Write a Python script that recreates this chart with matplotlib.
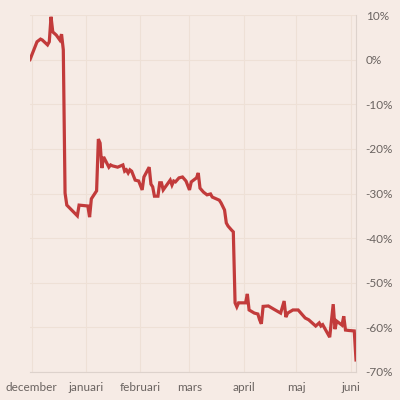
import matplotlib
matplotlib.use("Agg")
import matplotlib.pyplot as plt
import matplotlib.dates as mdates
import pandas as pd

dates = [
    "2018-11-30", "2018-12-04", "2018-12-06", "2018-12-07", "2018-12-10", "2018-12-11",
    "2018-12-12", "2018-12-13", "2018-12-15", "2018-12-17", "2018-12-18", "2018-12-19",
    "2018-12-20", "2018-12-21", "2018-12-27", "2018-12-28", "2019-01-02", "2019-01-03",
    "2019-01-04", "2019-01-07", "2019-01-08", "2019-01-09", "2019-01-10", "2019-01-11",
    "2019-01-14", "2019-01-15", "2019-01-16", "2019-01-19", "2019-01-22", "2019-01-23",
    "2019-01-24", "2019-01-25", "2019-01-26", "2019-01-27", "2019-01-29", "2019-01-31",
    "2019-02-02", "2019-02-03", "2019-02-06", "2019-02-07", "2019-02-08", "2019-02-09",
    "2019-02-11", "2019-02-12", "2019-02-13", "2019-02-14", "2019-02-16", "2019-02-18",
    "2019-02-19", "2019-02-20", "2019-02-21", "2019-02-23", "2019-02-25", "2019-02-27",
    "2019-03-01", "2019-03-02", "2019-03-05", "2019-03-06", "2019-03-07", "2019-03-09",
    "2019-03-11", "2019-03-13", "2019-03-14", "2019-03-18", "2019-03-19", "2019-03-21",
    "2019-03-22", "2019-03-23", "2019-03-25", "2019-03-26", "2019-03-27", "2019-03-28",
    "2019-03-29", "2019-04-02", "2019-04-03", "2019-04-04", "2019-04-07", "2019-04-09",
    "2019-04-10", "2019-04-11", "2019-04-12", "2019-04-15", "2019-04-18", "2019-04-22",
    "2019-04-24", "2019-04-25", "2019-04-26", "2019-04-29", "2019-05-02", "2019-05-04",
    "2019-05-06", "2019-05-08", "2019-05-10", "2019-05-12", "2019-05-14", "2019-05-15",
    "2019-05-16", "2019-05-20", "2019-05-22", "2019-05-23", "2019-05-24", "2019-05-27",
    "2019-05-28", "2019-05-29", "2019-05-31", "2019-06-03", "2019-06-04",
]
change_pct = [
    0.0, 4.0, 4.6, 4.4, 3.3, 4.0,
    9.6, 6.2, 5.5, 4.4, 5.7, 2.2,
    -29.9, -32.6, -35.0, -32.6, -32.8, -35.3,
    -31.2, -29.4, -17.8, -18.7, -24.3, -21.8,
    -24.1, -23.6, -23.8, -24.1, -23.6, -25.0,
    -24.7, -25.4, -24.7, -25.0, -27.0, -27.2,
    -29.2, -26.3, -24.1, -27.9, -28.5, -30.6,
    -30.6, -27.6, -27.6, -29.2, -28.1, -27.0,
    -28.1, -27.2, -27.4, -26.5, -26.3, -27.2,
    -29.2, -27.4, -26.5, -25.4, -28.8, -29.7,
    -30.3, -30.1, -30.8, -31.5, -32.1, -33.7,
    -36.6, -37.3, -38.2, -38.6, -54.5, -55.4,
    -54.5, -54.5, -52.5, -56.1, -56.8, -57.0,
    -58.3, -59.2, -55.3, -55.2, -55.9, -56.8,
    -54.1, -57.7, -56.8, -56.1, -56.1, -57.0,
    -57.9, -58.3, -59.0, -59.7, -59.0, -59.7,
    -59.4, -62.2, -54.8, -60.4, -58.6, -59.5,
    -57.5, -60.6, -60.7, -60.8, -67.3,
]
month_ticks = ["2018-12-01", "2019-01-01", "2019-02-01", "2019-03-01",
               "2019-04-01", "2019-05-01", "2019-06-01"]
month_labels = ["december", "januari", "februari", "mars", "april", "maj", "juni"]
y_ticks = [10, 0, -10, -20, -30, -40, -50, -60, -70]

bg = "#f6ebe5"
grid_c = "#eee0d6"
text_c = "#6a6360"
line_c = "#c23b3b"

plt.rcParams["font.family"] = ["Lato", "DejaVu Sans"]

fig = plt.figure(figsize=(4, 4), dpi=100, facecolor=bg)
ax = fig.add_axes([0.075, 0.07, 0.815, 0.8925], facecolor=bg)

x = pd.to_datetime(dates)
ax.plot(x, change_pct, color=line_c, lw=2.3, solid_joinstyle="miter", zorder=3)

ax.set_xlim(x[0], x[-1])
ax.set_ylim(-70, 10)

ax.set_xticks(pd.to_datetime(month_ticks))
ax.set_xticklabels(month_labels)
ax.set_yticks(y_ticks)
ax.set_yticklabels([f"{v}%" for v in y_ticks])

ax.yaxis.tick_right()
ax.tick_params(axis="both", length=0, colors=text_c, labelsize=8.5)
ax.tick_params(axis="y", pad=7)
ax.tick_params(axis="x", pad=7)
for lab in ax.get_yticklabels():
    lab.set_horizontalalignment("left")

ax.grid(True, color=grid_c, lw=0.8, zorder=0)
for s in ["top", "left"]:
    ax.spines[s].set_visible(False)
ax.spines["right"].set_color("#ddd2cc")
ax.spines["bottom"].set_color("#ddd2cc")
ax.spines["right"].set_linewidth(0.8)
ax.spines["bottom"].set_linewidth(0.8)

fig.savefig("out.png", dpi=100, facecolor=bg)
